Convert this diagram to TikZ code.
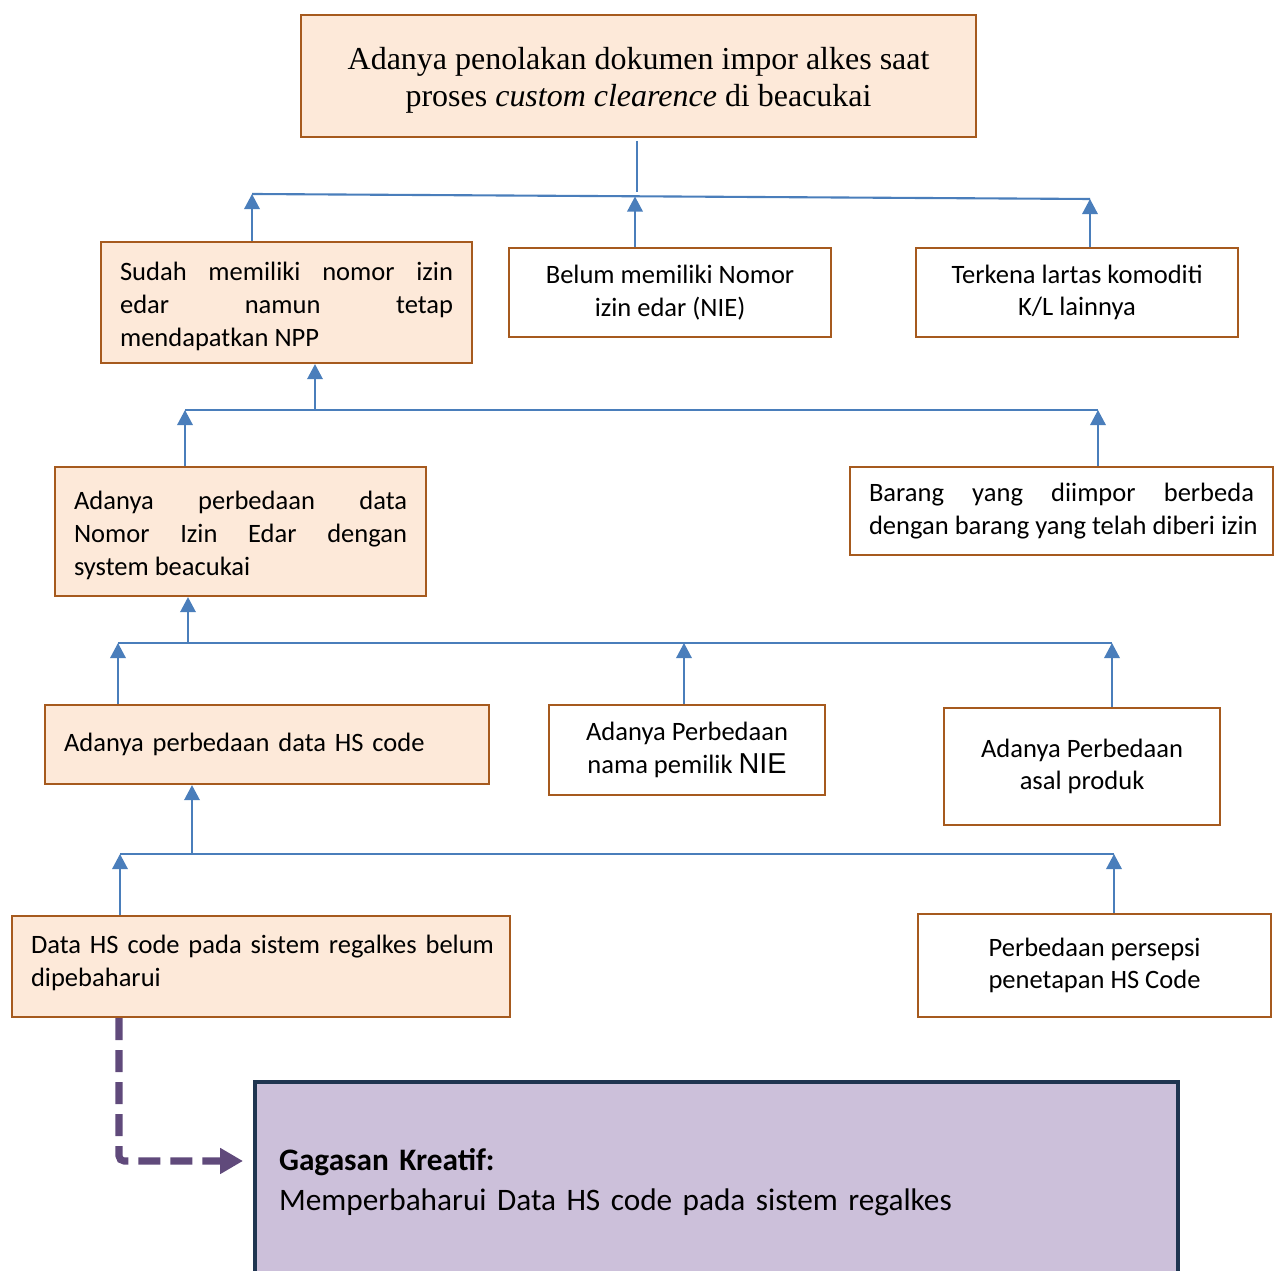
\documentclass[tikz,border=0pt]{standalone}
\usepackage{fontspec}
\setmainfont{Carlito}
\newfontfamily\timesfont{Liberation Serif}
\newfontfamily\arialfont{Liberation Sans}
\usepackage{tikz}
\usetikzlibrary{arrows.meta,positioning,calc}

\definecolor{peach}{HTML}{FDE9D9}
\definecolor{boxline}{HTML}{A65A1E}
\definecolor{linkblue}{HTML}{4A7EBB}
\definecolor{idealila}{HTML}{CCC0DA}
\definecolor{ideanavy}{HTML}{1F3550}
\definecolor{dashlila}{HTML}{604A7B}

\tikzset{
  cause/.style={draw=boxline, line width=0.6pt, fill=peach, anchor=north west,
    inner xsep=0.19cm, inner ysep=0pt, font=\fontsize{7.55}{9.3}\selectfont},
  plainbox/.style={cause, fill=white},
  link/.style={draw=linkblue, line width=0.6pt},
  up/.style={link, -{Triangle[width=4.4pt,length=4.3pt]}},
}

\begin{document}
\begin{tikzpicture}[x=1cm,y=-1cm]
  \useasboundingbox (0,0) rectangle (12.78,12.71);

  % problem at the top
  \node[cause, minimum width=6.75cm, minimum height=1.22cm, align=center,
        font=\timesfont\fontsize{9.1}{10.6}\selectfont] (top) at (3.00,0.14)
        {\rule{0pt}{0.30cm}Adanya penolakan dokumen impor alkes saat\\proses \textit{custom clearence} di beacukai};

  % first row
  \node[cause, minimum width=3.71cm, minimum height=1.21cm, text width=3.33cm, align=justify]
        (npp) at (1.00,2.41)
        {\rule{0pt}{0.26cm}Sudah memiliki nomor izin\linebreak edar namun tetap\linebreak mendapatkan NPP};
  \node[plainbox, minimum width=3.22cm, minimum height=0.89cm, align=center]
        (nie) at (5.08,2.47) {Belum memiliki Nomor\\izin edar (NIE)};
  \node[plainbox, minimum width=3.22cm, minimum height=0.89cm, align=center]
        (lartas) at (9.15,2.47) {Terkena lartas komoditi\\K/L lainnya};

  % second row
  \node[cause, minimum width=3.71cm, minimum height=1.29cm, text width=3.33cm, align=justify]
        (sistem) at (0.54,4.66)
        {\rule{0pt}{0.26cm}Adanya perbedaan data\linebreak Nomor Izin Edar dengan\linebreak system beacukai};
  \node[plainbox, minimum width=4.23cm, minimum height=0.88cm, text width=3.85cm, align=justify]
        (barang) at (8.49,4.66)
        {Barang yang diimpor berbeda\linebreak \mbox{dengan barang yang telah diberi izin}};

  % third row
  \node[cause, minimum width=4.44cm, minimum height=0.79cm, text width=4.06cm, align=left]
        (hscode) at (0.44,7.04) {Adanya perbedaan data HS code};
  \node[plainbox, minimum width=2.76cm, minimum height=0.90cm, align=center]
        (pemilik) at (5.48,7.04) {Adanya Perbedaan\\nama pemilik {\arialfont\fontsize{8.2}{9.3}\selectfont NIE}};
  \node[plainbox, minimum width=2.76cm, minimum height=1.17cm, align=center]
        (asal) at (9.43,7.07) {Adanya Perbedaan\\asal produk};

  % fourth row
  \node[cause, minimum width=4.98cm, minimum height=1.01cm, text width=4.60cm, align=left]
        (regalkes) at (0.11,9.15)
        {\mbox{Data HS code pada sistem regalkes belum}\\dipebaharui\rule[-0.12cm]{0pt}{0pt}};
  \node[plainbox, minimum width=3.53cm, minimum height=1.03cm, align=center]
        (persepsi) at (9.17,9.13) {Perbedaan persepsi\\penetapan HS Code};

  % idea box
  \node[draw=ideanavy, line width=1.2pt, fill=idealila, anchor=north west,
        minimum width=9.23cm, minimum height=2.00cm, text width=8.75cm,
        inner xsep=0.24cm, align=left, font=\fontsize{8.9}{11.3}\selectfont]
        (gagasan) at (2.53,10.80)
        {\textbf{Gagasan Kreatif:}\\Memperbaharui Data HS code pada sistem regalkes};

  % bus lines
  \coordinate (b1L) at (2.52,1.94);
  \coordinate (b1R) at (10.90,1.99);
  \coordinate (b1M) at (6.37,1.92);
  \coordinate (b2L) at (1.85,4.10);
  \coordinate (b2R) at (10.98,4.10);
  \coordinate (j2) at (3.15,4.10);
  \coordinate (b3L) at (1.18,6.43);
  \coordinate (b3R) at (11.12,6.43);
  \coordinate (j3) at (1.88,6.43);
  \coordinate (b4L) at (1.20,8.54);
  \coordinate (b4R) at (11.14,8.54);
  \coordinate (j4) at (1.92,8.54);

  \draw[link] (b1L) -- (b1R);
  \draw[link] (6.37,1.41) -- (b1M);
  \draw[up] (npp.north -| b1L) -- (b1L);
  \draw[up] (nie.north -| 6.35,0) -- (6.35,1.965);
  \draw[up] (lartas.north -| b1R) -- (b1R);

  \draw[link] (b2L) -- (b2R);
  \draw[up] (j2) -- (j2 |- npp.south);
  \draw[up] (sistem.north -| b2L) -- (b2L);
  \draw[up] (barang.north -| b2R) -- (b2R);

  \draw[link] (b3L) -- (b3R);
  \draw[up] (j3) -- (j3 |- sistem.south);
  \draw[up] (hscode.north -| b3L) -- (b3L);
  \draw[up] (pemilik.north -| 6.84,0) -- (6.84,6.43);
  \draw[up] (asal.north -| b3R) -- (b3R);

  \draw[link] (b4L) -- (b4R);
  \draw[up] (j4) -- (j4 |- hscode.south);
  \draw[up] (regalkes.north -| b4L) -- (b4L);
  \draw[up] (persepsi.north -| b4R) -- (b4R);

  % dashed arrow to the idea
  \draw[draw=dashlila, line width=2pt, dash pattern=on 0.22cm off 0.1cm, rounded corners=0.05cm,
        -{Triangle[width=7pt,length=6.5pt]}, shorten >=0.1cm]
        (regalkes.south -| 1.19,0) |- (gagasan.west |- 0,11.61);
\end{tikzpicture}
\end{document}
